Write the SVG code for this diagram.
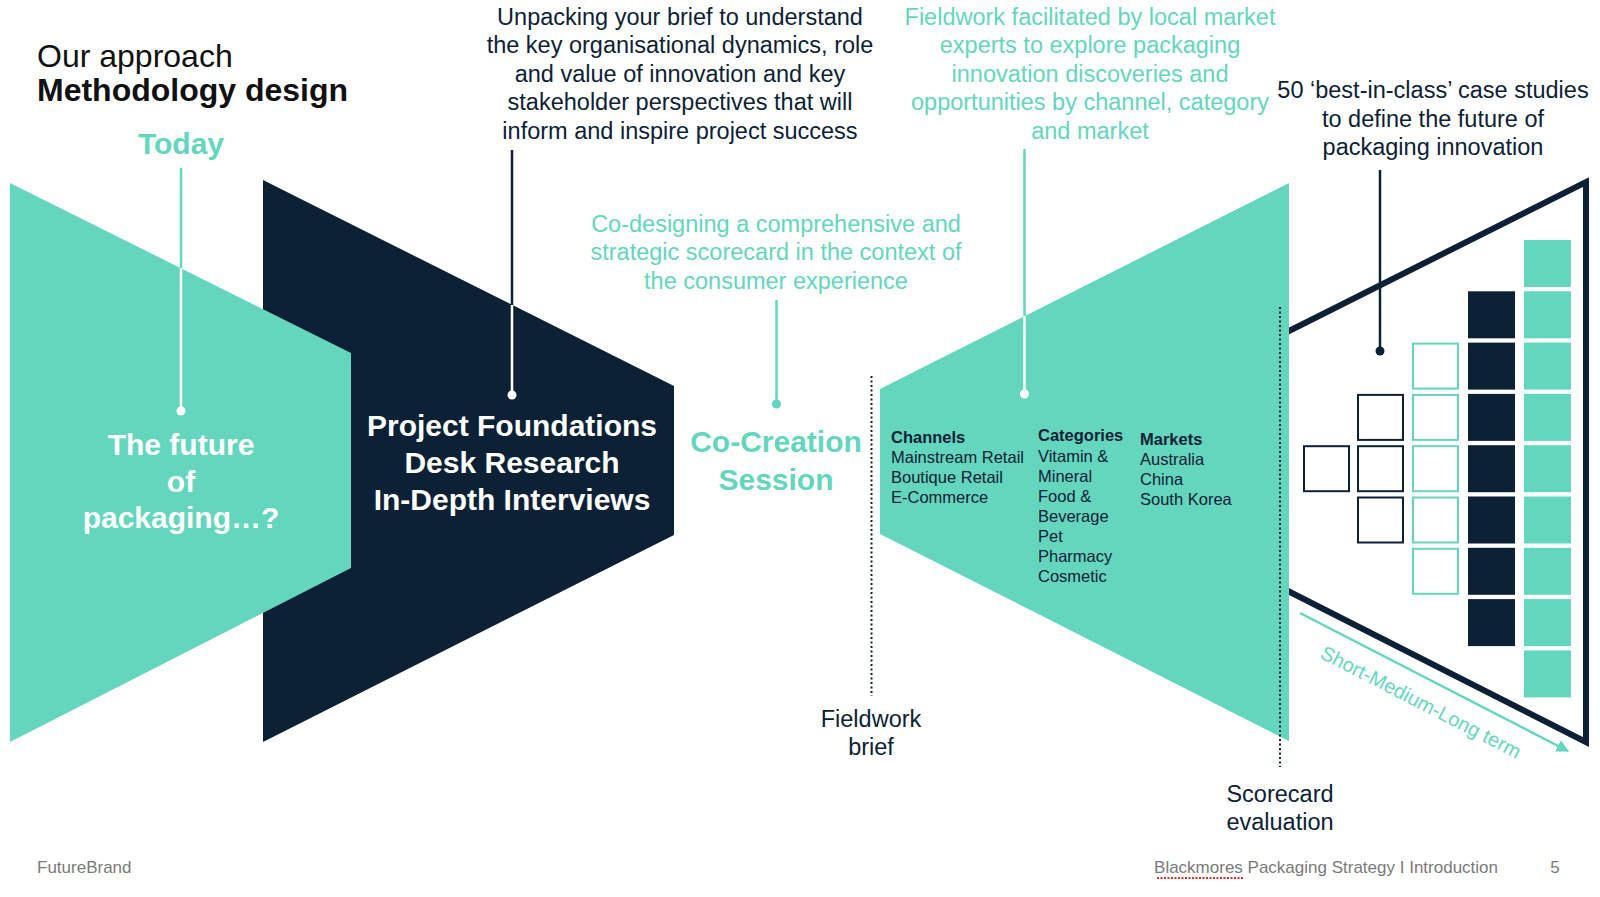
<svg xmlns="http://www.w3.org/2000/svg" width="1600" height="897" viewBox="0 0 1600 897">
<defs>
<style>
text{font-family:"Liberation Sans",Arial,Helvetica,sans-serif}
.t{fill:#64d6bd}
.d{fill:#0d2136}
.w{fill:#ffffff}
.para{font-size:23.5px;text-anchor:middle}
.big{font-size:30px;font-weight:bold;text-anchor:middle}
.list{font-size:16.5px;fill:#0d2136}
.lh{font-weight:bold}
.foot{font-size:17px;fill:#7a7a7a}
.lineT{stroke:#64d6bd;stroke-width:2.5;fill:none}
.lineD{stroke:#0d2136;stroke-width:2.5;fill:none}
.lineW{stroke:#ffffff;stroke-width:2.5;fill:none}
.dots{stroke:#0d2136;stroke-width:2;stroke-dasharray:2 2.5;fill:none}
.sqT{fill:#64d6bd}
.sqD{fill:#0d2136}
.sqTo{fill:none;stroke:#64d6bd;stroke-width:2}
.sqDo{fill:none;stroke:#0d2136;stroke-width:2}
</style>
<marker id="arr" viewBox="0 0 10 10" refX="9" refY="5" markerWidth="5" markerHeight="5" orient="auto">
<path d="M0,0 L10,5 L0,10 z" fill="#64d6bd"/>
</marker>
</defs>
<rect width="1600" height="897" fill="#ffffff"/>

<g id="title">
<text x="37" y="67" font-size="32" fill="#111">Our approach</text>
<text x="37" y="101" font-size="32" font-weight="bold" fill="#111">Methodology design</text>
</g>

<g id="node-outline">
<polyline points="1284,333.5 1586,182 1586,742 1284,589" fill="none" stroke="#0d2136" stroke-width="6" stroke-linejoin="miter"/>
</g>

<g id="node-foundations">
<polygon points="263,180 674,386 674,535 263,742" fill="#0d2136"/>
<text class="big w"><tspan x="512" y="436">Project Foundations</tspan><tspan x="512" y="473">Desk Research</tspan><tspan x="512" y="510">In-Depth Interviews</tspan></text>
<text class="para d"><tspan x="680" y="25">Unpacking your brief to understand</tspan><tspan x="680" y="53.4">the key organisational dynamics, role</tspan><tspan x="680" y="81.8">and value of innovation and key</tspan><tspan x="680" y="110.2">stakeholder perspectives that will</tspan><tspan x="680" y="138.6">inform and inspire project success</tspan></text>
</g>

<g id="node-today">
<polygon points="10,183 351,353 351,568 10,742" fill="#64d6bd"/>
<text x="181" y="154" class="big t" font-size="29">Today</text>
<text class="big w"><tspan x="181" y="455">The future</tspan><tspan x="181" y="491.5">of</tspan><tspan x="181" y="528">packaging…?</tspan></text>
</g>

<g id="node-cocreation">
<text class="big t"><tspan x="776" y="452">Co-Creation</tspan><tspan x="776" y="490">Session</tspan></text>
<text class="para t"><tspan x="776" y="232">Co-designing a comprehensive and</tspan><tspan x="776" y="260.4">strategic scorecard in the context of</tspan><tspan x="776" y="288.8">the consumer experience</tspan></text>
</g>

<g id="node-fieldwork">
<polygon points="880,389 1289,183 1289,741 880,534" fill="#64d6bd"/>
<text class="para t"><tspan x="1090" y="25">Fieldwork facilitated by local market</tspan><tspan x="1090" y="53.4">experts to explore packaging</tspan><tspan x="1090" y="81.8">innovation discoveries and</tspan><tspan x="1090" y="110.2">opportunities by channel, category</tspan><tspan x="1090" y="138.6">and market</tspan></text>
<text class="list"><tspan x="891" y="443" class="lh">Channels</tspan><tspan x="891" y="463">Mainstream Retail</tspan><tspan x="891" y="483">Boutique Retail</tspan><tspan x="891" y="503">E-Commerce</tspan></text>
<text class="list"><tspan x="1038" y="441" class="lh">Categories</tspan><tspan x="1038" y="461.5">Vitamin &amp;</tspan><tspan x="1038" y="481.5">Mineral</tspan><tspan x="1038" y="501.5">Food &amp;</tspan><tspan x="1038" y="521.5">Beverage</tspan><tspan x="1038" y="541.5">Pet</tspan><tspan x="1038" y="561.5">Pharmacy</tspan><tspan x="1038" y="581.5">Cosmetic</tspan></text>
<text class="list"><tspan x="1140" y="445" class="lh">Markets</tspan><tspan x="1140" y="465">Australia</tspan><tspan x="1140" y="485">China</tspan><tspan x="1140" y="505">South Korea</tspan></text>
</g>

<g id="node-fieldwork-brief">
<text class="para d"><tspan x="871" y="727">Fieldwork</tspan><tspan x="871" y="755">brief</tspan></text>
</g>

<g id="node-scorecard">
<text class="para d"><tspan x="1280" y="802">Scorecard</tspan><tspan x="1280" y="830">evaluation</tspan></text>
</g>

<g id="node-casestudies">
<text class="para d"><tspan x="1433" y="98">50 ‘best-in-class’ case studies</tspan><tspan x="1433" y="126.5">to define the future of</tspan><tspan x="1433" y="155">packaging innovation</tspan></text>
<g id="squares">
<rect class="sqT" x="1524" y="240" width="47" height="47"/>
<rect class="sqT" x="1524" y="291.3" width="47" height="47"/>
<rect class="sqT" x="1524" y="342.6" width="47" height="47"/>
<rect class="sqT" x="1524" y="393.9" width="47" height="47"/>
<rect class="sqT" x="1524" y="445.2" width="47" height="47"/>
<rect class="sqT" x="1524" y="496.5" width="47" height="47"/>
<rect class="sqT" x="1524" y="547.8" width="47" height="47"/>
<rect class="sqT" x="1524" y="599.1" width="47" height="47"/>
<rect class="sqT" x="1524" y="650.4" width="47" height="47"/>
<rect class="sqD" x="1468" y="291.3" width="47" height="47"/>
<rect class="sqD" x="1468" y="342.6" width="47" height="47"/>
<rect class="sqD" x="1468" y="393.9" width="47" height="47"/>
<rect class="sqD" x="1468" y="445.2" width="47" height="47"/>
<rect class="sqD" x="1468" y="496.5" width="47" height="47"/>
<rect class="sqD" x="1468" y="547.8" width="47" height="47"/>
<rect class="sqD" x="1468" y="599.1" width="47" height="47"/>
<rect class="sqTo" x="1413" y="343.6" width="45" height="45"/>
<rect class="sqTo" x="1413" y="394.9" width="45" height="45"/>
<rect class="sqTo" x="1413" y="446.2" width="45" height="45"/>
<rect class="sqTo" x="1413" y="497.5" width="45" height="45"/>
<rect class="sqTo" x="1413" y="548.8" width="45" height="45"/>
<rect class="sqDo" x="1358" y="394.9" width="45" height="45"/>
<rect class="sqDo" x="1358" y="446.2" width="45" height="45"/>
<rect class="sqDo" x="1358" y="497.5" width="45" height="45"/>
<rect class="sqDo" x="1304" y="446.2" width="45" height="45"/>
</g>
</g>

<g id="connectors">
<line class="lineT" x1="181" y1="168" x2="181" y2="268"/>
<line class="lineW" x1="181" y1="268" x2="181" y2="411"/>
<circle cx="181" cy="411" r="4.5" fill="#ffffff"/>
<line class="lineD" x1="512" y1="150" x2="512" y2="305"/>
<line class="lineW" x1="512" y1="305" x2="512" y2="395"/>
<circle cx="512" cy="395" r="4.5" fill="#ffffff"/>
<line class="lineT" x1="776.5" y1="300" x2="776.5" y2="404"/>
<circle cx="776.5" cy="404" r="4.5" fill="#64d6bd"/>
<line class="lineT" x1="1024.5" y1="149" x2="1024.5" y2="316"/>
<line class="lineW" x1="1024.5" y1="316" x2="1024.5" y2="394"/>
<circle cx="1024.5" cy="394" r="4.5" fill="#ffffff"/>
<line class="lineD" x1="1380" y1="170" x2="1380" y2="351"/>
<circle cx="1380" cy="351" r="4.5" fill="#0d2136"/>
<line class="dots" x1="871.5" y1="376" x2="871.5" y2="696"/>
<line class="dots" x1="1280" y1="307" x2="1280" y2="767"/>
<line x1="1300" y1="613" x2="1568" y2="751" stroke="#64d6bd" stroke-width="2.5" marker-end="url(#arr)"/>
<text transform="translate(1421,702) rotate(27.2)" y="7" font-size="20" text-anchor="middle" fill="#64d6bd">Short-Medium-Long term</text>
</g>

<g id="footer">
<text x="37" y="873" class="foot">FutureBrand</text>
<text x="1498" y="873" class="foot" text-anchor="end">Blackmores Packaging Strategy I Introduction</text>
<line x1="1157" y1="878" x2="1243" y2="878" stroke="#d93025" stroke-width="2" stroke-dasharray="2 1.5"/>
<text x="1555" y="873" class="foot" text-anchor="middle">5</text>
</g>
</svg>
